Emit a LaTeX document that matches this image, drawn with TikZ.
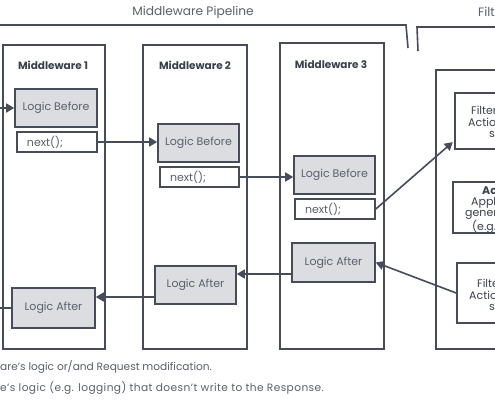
\documentclass[tikz,border=0pt]{standalone}
\usepackage{fontspec}
\setmainfont{Poppins}
\usetikzlibrary{arrows.meta}
\definecolor{ink}{HTML}{464C5A}
\definecolor{boxfill}{HTML}{DCDDE0}
\definecolor{txt}{HTML}{5A606C}
\definecolor{dtxt}{HTML}{3A404E}
\begin{document}
\begin{tikzpicture}[x=1pt,y=-1pt,
  frame/.style={draw=ink, line width=1.6pt, rectangle, inner sep=0pt},
  logic/.style={draw=ink, fill=boxfill, line width=1.6pt, rectangle, inner sep=0pt,
    text=txt, font=\fontsize{11}{13}\selectfont},
  nextbox/.style={draw=ink, fill=white, line width=1.6pt, rectangle, inner ysep=0pt,
    inner xsep=10pt, minimum height=20pt, text width=60pt, align=left,
    text=txt, font=\fontsize{11}{13}\selectfont},
  mtitle/.style={text=dtxt, font=\fontsize{10.5}{12}\selectfont\bfseries},
  ftext/.style={anchor=west, inner sep=0pt, text=dtxt, font=\fontsize{11}{13}\selectfont},
  note/.style={anchor=west, inner sep=0pt, text=txt, font=\fontsize{10.6}{12}\selectfont},
  arr/.style={draw=ink, line width=1.6pt, -{Triangle[length=8pt,width=9pt]}},
  conn/.style={draw=ink, line width=1.6pt}
]
\useasboundingbox (0,0) rectangle (495,400);
\clip (0,0) rectangle (495,400);
\fill[white] (0,0) rectangle (495,400);

% headers and brackets
\node[text=txt, font=\fontsize{12.2}{14}\selectfont] (ptitle) at (193,12) {Middleware Pipeline};
\node[anchor=west, inner sep=0pt, text=txt, font=\fontsize{12.2}{14}\selectfont] (ftitle) at (478,12) {Filt};
\draw[conn] (-2,25) -- (406,25) -- (408,48);
\draw[conn] (418,51) -- (417,27) -- (500,27);

% middleware frames
\node[frame, minimum width=102pt, minimum height=304pt] (m1) at (54,197) {};
\node[frame, minimum width=104pt, minimum height=304pt] (m2) at (195,197) {};
\node[frame, minimum width=104pt, minimum height=306pt] (m3) at (332,196) {};
\node[frame, minimum width=100pt, minimum height=279pt] (fo) at (486,209.5) {};

\node[mtitle] (m1t) at (53,65) {Middleware 1};
\node[mtitle] (m2t) at (195,65) {Middleware 2};
\node[mtitle] (m3t) at (331,64) {Middleware 3};

% middleware 1
\node[logic, minimum width=82pt, minimum height=38pt] (lb1) at (56,108) {Logic Before};
\node[nextbox] (n1) at (57,142) {next();};
\node[logic, minimum width=83pt, minimum height=40pt] (la1) at (53.5,308) {Logic After};

% middleware 2
\node[logic, minimum width=81pt, minimum height=38pt] (lb2) at (198.5,143) {Logic Before};
\node[nextbox, text width=59pt] (n2) at (199.5,177) {next();};
\node[logic, minimum width=81pt, minimum height=38pt] (la2) at (195.5,285) {Logic After};

% middleware 3
\node[logic, minimum width=81pt, minimum height=38pt] (lb3) at (334.5,175) {Logic Before};
\node[nextbox] (n3) at (335,209) {next();};
\node[logic, minimum width=83pt, minimum height=39pt] (la3) at (333.5,262.5) {Logic After};

% filter boxes (cut at the right edge, as in the reference)
\node[frame, minimum width=70pt, minimum height=56pt] (f1) at (490,121) {};
\node[frame, minimum width=70pt, minimum height=51pt] (f2) at (488,207.5) {};
\node[frame, minimum width=70pt, minimum height=60pt] (f3) at (492,293) {};

\node[ftext] (f1a) at (471,110) {Filter};
\node[ftext] (f1b) at (468,122) {Actio};
\node[ftext] (f1c) at (489,134) {s};
\node[ftext, font=\fontsize{11}{13}\selectfont\bfseries] (f2a) at (482,191) {Ac};
\node[ftext] (f2b) at (471,203) {Appli};
\node[ftext] (f2c) at (465,215) {gener};
\node[ftext] (f2d) at (472,227) {(e.g.};
\node[ftext] (f3a) at (477,283) {Filte};
\node[ftext] (f3b) at (469,295) {Actio};
\node[ftext] (f3c) at (489,307) {s};

% connectors
\coordinate (entry) at (-2,108);
\coordinate (exit) at (-2,308);
\draw[arr] (entry) -- (lb1.west);
\draw[arr] (n1.east) -- (n1.east -| lb2.west);
\draw[arr] (n2.east) -- (n2.east -| lb3.west);
\draw[arr, shorten >=2pt] (n3.east) -- ([yshift=9pt]f1.south west);
\draw[arr] (f3.west) -- (la3.east);
\draw[arr] ([yshift=-11.5pt]la3.west) coordinate (p3) -- (p3 -| la2.east);
\draw[arr] ([yshift=-12pt]la2.west) coordinate (p2) -- (p2 -| la1.east);
\draw[conn] (la1.west) -- (exit);

% notes
\node[note] (note1) at (0,367) {are's logic or/and Request modification.};
\node[note, font=\fontsize{10.6}{12}\selectfont\addfontfeature{LetterSpace=4}] (note2) at (0,388) {e's logic (e.g. logging) that doesn't write to the Response.};
\end{tikzpicture}
\end{document}
